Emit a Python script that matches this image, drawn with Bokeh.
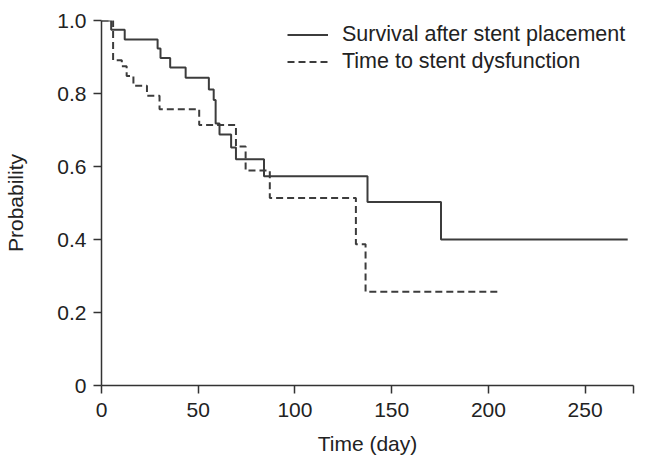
from bokeh.plotting import figure
from bokeh.models import Legend, LegendItem, FixedTicker, Range1d
from bokeh.embed import file_html
from bokeh.resources import INLINE

# Kaplan-Meier step data
surv_days = [0, 5, 12, 29, 30.5, 35.5, 43.5, 55.5, 58, 59, 61, 67, 69.5, 84, 137.5, 175.5, 272]
surv_prob = [1.0, 0.975, 0.948, 0.923, 0.897, 0.871, 0.843, 0.811, 0.782, 0.718, 0.688, 0.652, 0.62, 0.573, 0.503, 0.40, 0.40]

dysf_days = [0, 6, 10.5, 13, 16.5, 23.5, 30, 50.5, 69.5, 74.5, 87, 131.5, 136.5, 205]
dysf_prob = [1.0, 0.891, 0.875, 0.848, 0.821, 0.794, 0.757, 0.714, 0.655, 0.589, 0.514, 0.387, 0.257, 0.257]

x_ticks = [0, 50, 100, 150, 200, 250, 275]
y_ticks = [0, 0.2, 0.4, 0.6, 0.8, 1.0]
series_labels = ["Survival after stent placement", "Time to stent dysfunction"]

FONT = "Liberation Sans"
FS = "21px"
LINE_COL = "#3c3c3c"
AX_COL = "#333333"

p = figure(width=640, height=465, output_backend="svg", toolbar_location=None,
           x_range=Range1d(0, 275), y_range=Range1d(0, 1.0),
           min_border_left=101, min_border_right=7, min_border_top=20, min_border_bottom=80)
p.outline_line_color = None
p.xgrid.visible = False
p.ygrid.visible = False

r1 = p.step(surv_days, surv_prob, mode="after", line_color=LINE_COL, line_width=2)
r2 = p.step(dysf_days, dysf_prob, mode="after", line_color=LINE_COL, line_width=2, line_dash="7 4")

for ax in (p.xaxis[0], p.yaxis[0]):
    ax.axis_line_color = AX_COL
    ax.axis_line_width = 1.5
    ax.major_tick_line_color = AX_COL
    ax.major_tick_line_width = 1.5
    ax.major_tick_in = 0
    ax.major_tick_out = 8
    ax.minor_tick_line_color = None
    ax.major_label_text_font = FONT
    ax.major_label_text_font_size = FS
    ax.major_label_text_color = "#222222"
    ax.axis_label_text_font = FONT
    ax.axis_label_text_font_size = FS
    ax.axis_label_text_font_style = "normal"
    ax.axis_label_text_color = "#222222"

p.xaxis.ticker = FixedTicker(ticks=x_ticks)
p.xaxis.major_label_overrides = {275: ""}
p.xaxis.axis_label = "Time (day)"
p.xaxis.major_label_standoff = 9
p.xaxis.axis_label_standoff = 12

p.yaxis.ticker = FixedTicker(ticks=y_ticks)
p.yaxis.major_label_overrides = {0: "0", 1: "1.0"}
p.yaxis.axis_label = "Probability"
p.yaxis.major_label_standoff = 7
p.yaxis.axis_label_standoff = 27

legend = Legend(items=[LegendItem(label=series_labels[0], renderers=[r1]),
                       LegendItem(label=series_labels[1], renderers=[r2])],
                location=(186, 310), orientation="vertical",
                glyph_width=41, glyph_height=27, label_height=27, label_standoff=14,
                spacing=0, padding=0, margin=0,
                border_line_color=None, background_fill_alpha=0,
                label_text_font=FONT, label_text_font_size="21.5px", label_text_color="#222222")
p.add_layout(legend, "center")

open("out.html", "w").write(file_html(p, INLINE))
